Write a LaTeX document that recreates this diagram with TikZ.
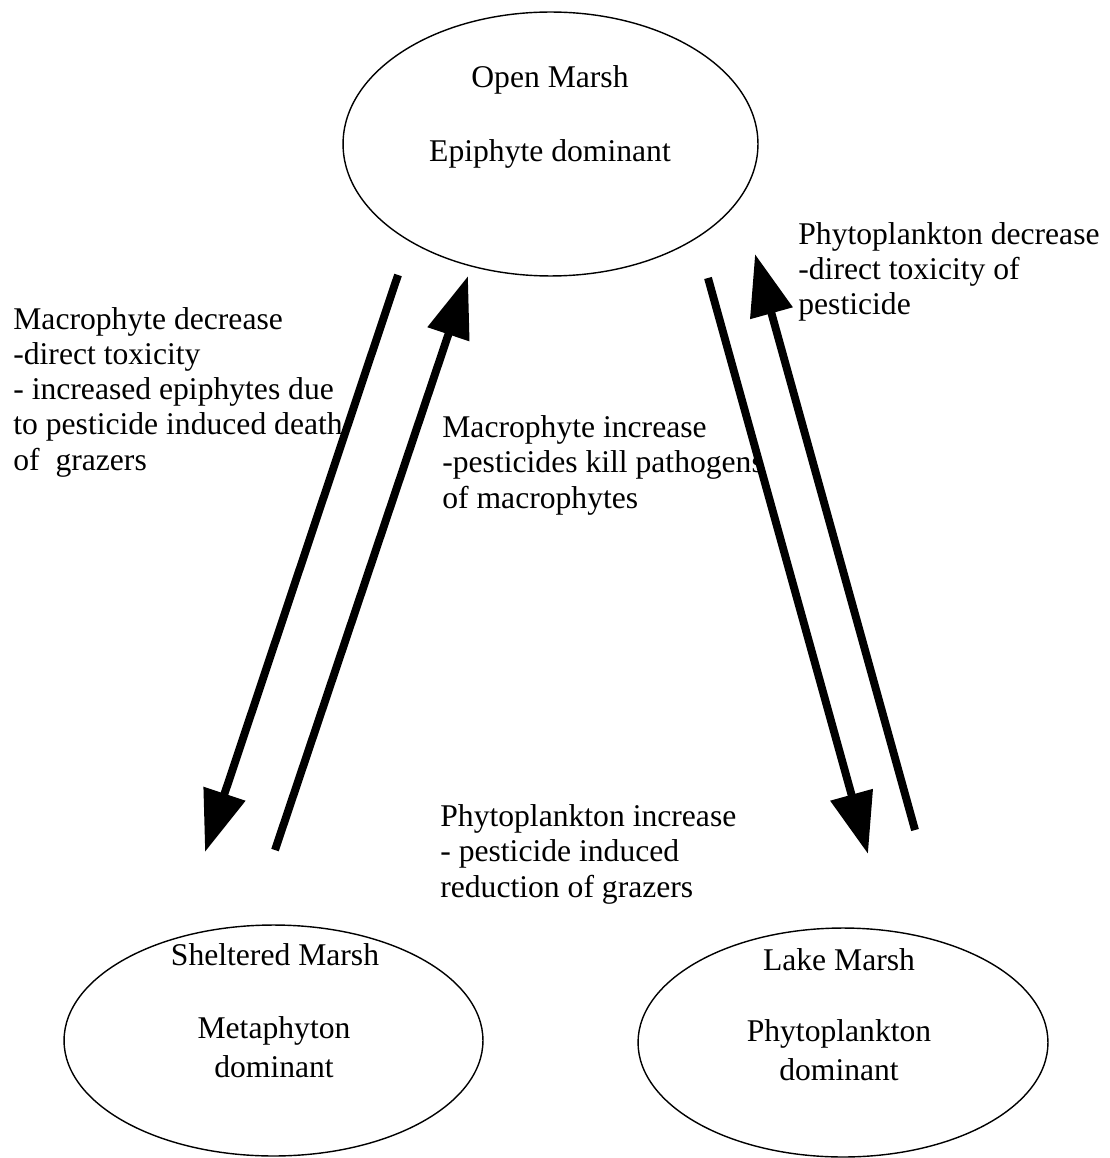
\documentclass[tikz,border=0pt]{standalone}
\usepackage{fontspec}
\setmainfont{Liberation Serif}
\usetikzlibrary{shapes.geometric, arrows.meta}
\tikzset{>={Triangle[length=35pt, width=24pt]}}
\tikzset{marsh/.style={draw, ellipse, line width=0.8pt, inner sep=0pt},
  state/.style={inner sep=0pt, align=center, font=\fontsize{18}{22}\selectfont},
  effect/.style={inner sep=0pt, align=left, font=\fontsize{18}{20}\selectfont},
  flow/.style={->, line width=4.5pt}}

\begin{document}
\begin{tikzpicture}[x=0.02cm, y=-0.02cm]
    \useasboundingbox (0,0) rectangle (1109,1158);
    % marsh types
    \node[marsh, minimum width=8.3cm, minimum height=5.28cm] (open) at (550.5,144) {};
    \node[marsh, minimum width=8.38cm, minimum height=4.62cm] (shelter) at (273.5,1040.5) {};
    \node[marsh, minimum width=8.2cm, minimum height=4.58cm] (lake) at (843,1042.5) {};
    \node[state, anchor=base] (openname) at (550,88) {Open Marsh};
    \node[state, anchor=base] (opendom) at (550,162) {Epiphyte dominant};
    \node[state, anchor=base] (sheltername) at (275,965) {Sheltered Marsh};
    \node[state, anchor=base] (shelterdom) at (274,1077) {Metaphyton\\dominant};
    \node[state, anchor=base] (lakename) at (839,970) {Lake Marsh};
    \node[state, anchor=base] (lakedom) at (839,1080) {Phytoplankton\\dominant};
    % transitions
    \coordinate (md1) at (398,275);
    \coordinate (md2) at (205,852);
    \coordinate (mi1) at (275,850);
    \coordinate (mi2) at (468,276);
    \coordinate (pi1) at (708,278);
    \coordinate (pi2) at (868,854);
    \coordinate (pd1) at (915,830);
    \coordinate (pd2) at (755,254);
    \draw[flow] (md1) -- (md2);
    \draw[flow] (mi1) -- (mi2);
    \draw[flow] (pi1) -- (pi2);
    \draw[flow] (pd1) -- (pd2);
    % base anchor = last line
    \node[effect, anchor=base west] (macdec) at (13,470) {Macrophyte decrease\\-direct toxicity\\- increased epiphytes due\\to pesticide induced death\\of~ grazers};
    \node[effect, anchor=base west] (macinc) at (442,508) {Macrophyte increase\\-pesticides kill pathogens\\of macrophytes};
    \node[effect, anchor=base west] (phydec) at (798,315) {Phytoplankton decrease\\-direct toxicity of\\pesticide};
    \node[effect, anchor=base west] (phyinc) at (440,897) {Phytoplankton increase\\- pesticide induced\\reduction of grazers};
\end{tikzpicture}
\end{document}
